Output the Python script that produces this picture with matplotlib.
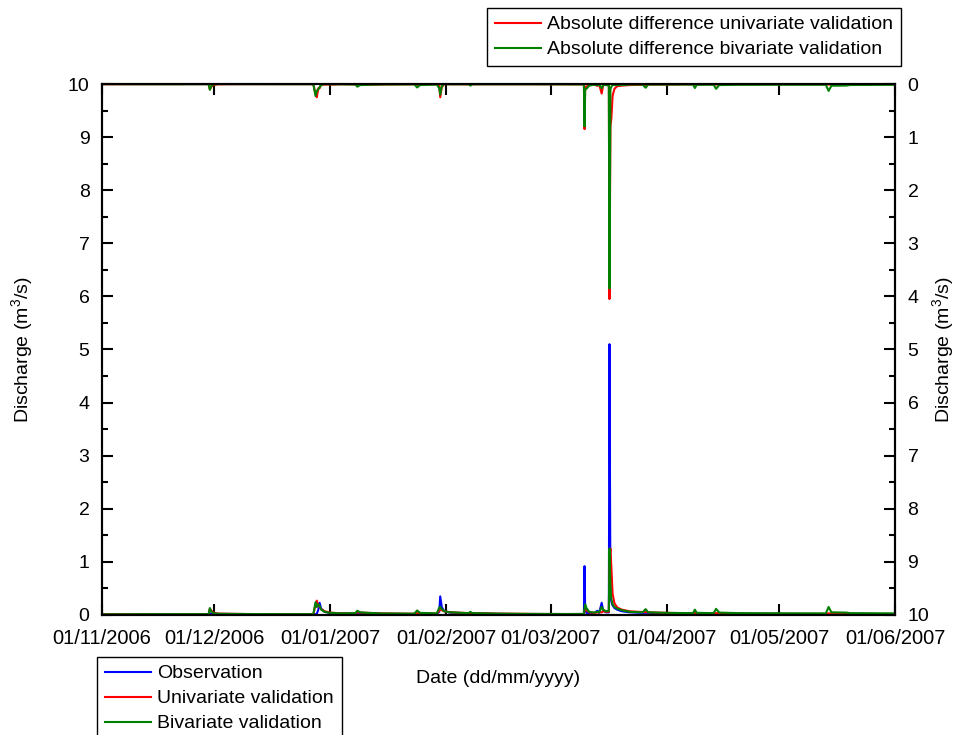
import pandas as pd
import matplotlib
matplotlib.use("Agg")
import matplotlib.pyplot as plt
import matplotlib.dates as mdates
from matplotlib.ticker import MultipleLocator

plt.rcParams['font.family'] = ['Liberation Sans', 'DejaVu Sans']
plt.rcParams['font.size'] = 14
plt.rcParams['mathtext.fontset'] = 'custom'
plt.rcParams['mathtext.rm'] = 'Liberation Sans'

# discharge series (m3/s), sampled at irregular times
times = [
    "2006-11-01 00:00", "2006-11-10 00:00", "2006-11-20 00:00", "2006-11-29 12:00",
    "2006-11-29 20:00", "2006-11-30 06:00", "2006-11-30 18:00", "2006-12-02 00:00",
    "2006-12-10 00:00", "2006-12-20 00:00", "2006-12-27 12:00", "2006-12-28 02:00",
    "2006-12-28 10:00", "2006-12-28 20:00", "2006-12-29 04:00", "2006-12-29 14:00",
    "2006-12-30 12:00", "2007-01-01 00:00", "2007-01-04 00:00", "2007-01-07 18:00",
    "2007-01-08 06:00", "2007-01-09 00:00", "2007-01-11 00:00", "2007-01-15 00:00",
    "2007-01-23 12:00", "2007-01-24 06:00", "2007-01-25 00:00", "2007-01-29 12:00",
    "2007-01-30 04:00", "2007-01-30 10:00", "2007-01-30 20:00", "2007-01-31 12:00",
    "2007-02-02 00:00", "2007-02-07 00:00", "2007-02-07 12:00", "2007-02-08 00:00",
    "2007-02-15 00:00", "2007-02-25 00:00", "2007-03-05 00:00", "2007-03-09 20:00",
    "2007-03-10 00:00", "2007-03-10 04:00", "2007-03-10 12:00", "2007-03-11 06:00",
    "2007-03-12 12:00", "2007-03-13 10:00", "2007-03-13 22:00", "2007-03-14 14:00",
    "2007-03-15 00:00", "2007-03-15 18:00", "2007-03-16 12:00", "2007-03-16 16:00",
    "2007-03-16 22:00", "2007-03-17 04:00", "2007-03-17 12:00", "2007-03-18 00:00",
    "2007-03-18 18:00", "2007-03-20 00:00", "2007-03-22 00:00", "2007-03-25 12:00",
    "2007-03-26 08:00", "2007-03-27 00:00", "2007-04-01 00:00", "2007-04-08 00:00",
    "2007-04-08 12:00", "2007-04-09 00:00", "2007-04-13 12:00", "2007-04-14 04:00",
    "2007-04-15 00:00", "2007-04-20 00:00", "2007-05-01 00:00", "2007-05-13 12:00",
    "2007-05-14 06:00", "2007-05-15 00:00", "2007-05-19 00:00", "2007-05-20 00:00",
    "2007-06-01 00:00",
]

observation = [
    0.010, 0.010, 0.010, 0.012, 0.020, 0.030, 0.025, 0.020,
    0.015, 0.012, 0.012, 0.015, 0.020, 0.100, 0.230, 0.120,
    0.060, 0.035, 0.025, 0.025, 0.030, 0.030, 0.025, 0.020,
    0.018, 0.020, 0.020, 0.020, 0.060, 0.350, 0.150, 0.070,
    0.045, 0.030, 0.030, 0.030, 0.020, 0.015, 0.012, 0.012,
    0.920, 0.100, 0.040, 0.030, 0.030, 0.080, 0.040, 0.230,
    0.080, 0.050, 0.050, 5.100, 0.450, 0.250, 0.180, 0.130,
    0.100, 0.070, 0.050, 0.040, 0.040, 0.040, 0.030, 0.025,
    0.025, 0.025, 0.022, 0.025, 0.025, 0.020, 0.018, 0.016,
    0.020, 0.018, 0.016, 0.016, 0.015,
]

univariate = [
    0.015, 0.014, 0.013, 0.014, 0.120, 0.080, 0.045, 0.025,
    0.018, 0.015, 0.015, 0.200, 0.270, 0.180, 0.150, 0.110,
    0.070, 0.045, 0.030, 0.030, 0.050, 0.045, 0.040, 0.030,
    0.022, 0.035, 0.030, 0.025, 0.080, 0.100, 0.090, 0.070,
    0.050, 0.035, 0.035, 0.035, 0.025, 0.020, 0.018, 0.018,
    0.070, 0.150, 0.090, 0.050, 0.040, 0.045, 0.050, 0.050,
    0.070, 0.060, 0.060, 1.050, 1.250, 0.900, 0.400, 0.220,
    0.140, 0.100, 0.070, 0.055, 0.055, 0.050, 0.040, 0.030,
    0.035, 0.030, 0.028, 0.035, 0.030, 0.025, 0.022, 0.020,
    0.030, 0.025, 0.020, 0.020, 0.018,
]

bivariate = [
    0.012, 0.014, 0.015, 0.016, 0.130, 0.060, 0.035, 0.022,
    0.018, 0.016, 0.016, 0.240, 0.150, 0.200, 0.170, 0.100,
    0.060, 0.040, 0.030, 0.035, 0.080, 0.050, 0.040, 0.028,
    0.025, 0.085, 0.040, 0.030, 0.140, 0.150, 0.110, 0.070,
    0.050, 0.035, 0.060, 0.035, 0.025, 0.020, 0.018, 0.020,
    0.120, 0.200, 0.130, 0.060, 0.045, 0.060, 0.050, 0.150,
    0.100, 0.070, 0.080, 1.250, 0.550, 0.300, 0.200, 0.150,
    0.120, 0.090, 0.060, 0.050, 0.110, 0.050, 0.040, 0.035,
    0.100, 0.040, 0.035, 0.115, 0.045, 0.035, 0.032, 0.030,
    0.150, 0.050, 0.045, 0.035, 0.030,
]

t = pd.to_datetime(times)
df = pd.DataFrame({"obs": observation, "uni": univariate, "biv": bivariate}, index=t)
df["diff_uni"] = (df["obs"] - df["uni"]).abs()
df["diff_biv"] = (df["obs"] - df["biv"]).abs()

fig = plt.figure(figsize=(9.56, 7.35), dpi=100)
ax = fig.add_axes([0.1067, 0.1633, 0.8295, 0.7224])
ax2 = ax.twinx()

l_obs, = ax.plot(df.index, df["obs"], color="blue", lw=1.5, label="Observation")
l_uni, = ax.plot(df.index, df["uni"], color="red", lw=1.5, label="Univariate validation")
l_biv, = ax.plot(df.index, df["biv"], color="green", lw=1.5, label="Bivariate validation")

d_uni, = ax2.plot(df.index, df["diff_uni"], color="red", lw=1.5,
                  label="Absolute difference univariate validation")
d_biv, = ax2.plot(df.index, df["diff_biv"], color="green", lw=1.5,
                  label="Absolute difference bivariate validation")

ax.set_xlim(pd.Timestamp("2006-11-01"), pd.Timestamp("2007-06-01"))
ax.set_ylim(0, 10)
ax2.set_ylim(10, 0)

ax.xaxis.set_major_locator(mdates.MonthLocator())
ax.xaxis.set_major_formatter(mdates.DateFormatter("%d/%m/%Y"))
for a in (ax, ax2):
    a.yaxis.set_major_locator(MultipleLocator(1))
    a.yaxis.set_minor_locator(MultipleLocator(0.5))
    for s in a.spines.values():
        s.set_linewidth(1.5)

ax.tick_params(axis="x", which="major", direction="in", top=True, length=8, width=1.5,
               pad=10, labelsize=14.5)
ax.tick_params(axis="y", which="major", direction="in", right=False, length=8, width=1.5, pad=9)
ax.tick_params(axis="y", which="minor", direction="in", right=False, length=4, width=1.5)
ax2.tick_params(axis="y", which="major", direction="in", length=8, width=1.5, pad=9)
ax2.tick_params(axis="y", which="minor", direction="in", length=4, width=1.5)

ax.set_ylabel("Discharge (m$^3$/s)", fontsize=14, labelpad=23)
ax2.set_ylabel("Discharge (m$^3$/s)", fontsize=14, labelpad=1)
ax.set_xlabel("Date (dd/mm/yyyy)", labelpad=16)

leg_kw = dict(frameon=True, fancybox=False, edgecolor="black", framealpha=1,
              handlelength=2.4, handletextpad=0.3, labelspacing=0.38,
              borderpad=0.4, borderaxespad=0, fontsize=14)
leg1 = fig.legend(handles=[d_uni, d_biv], loc="upper left",
                  bbox_to_anchor=(487 / 956, 1 - 8 / 735), **leg_kw)
leg1.get_frame().set_linewidth(1.0)
leg2 = fig.legend(handles=[l_obs, l_uni, l_biv], loc="upper left",
                  bbox_to_anchor=(97 / 956, 1 - 657 / 735), **leg_kw)
leg2.get_frame().set_linewidth(1.0)

fig.savefig("out.png", dpi=100)
